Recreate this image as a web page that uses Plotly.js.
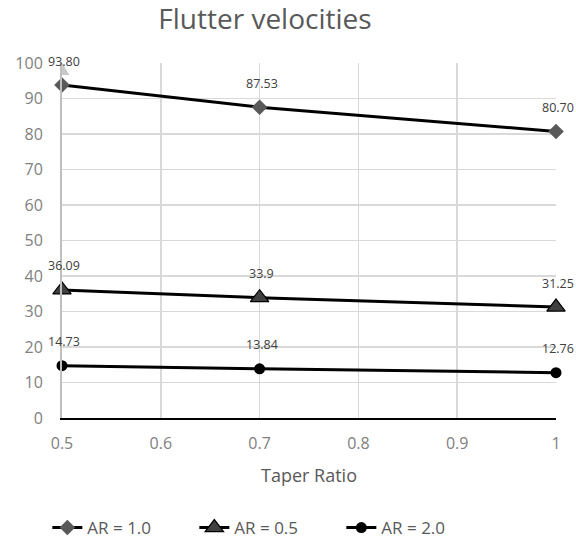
<!DOCTYPE html>
<html>
<head>
<meta charset="utf-8">
<script src="https://cdn.plot.ly/plotly-3.0.1.min.js"></script>
<style>html,body{margin:0;padding:0;background:#fff;}#chart{width:576px;height:541px;}</style>
</head>
<body>
<div id="chart"></div>
<script>
const taperRatio = [0.5, 0.7, 1.0];
const ar10 = [93.80, 87.53, 80.70];
const ar05 = [36.09, 33.9, 31.25];
const ar20 = [14.73, 13.84, 12.76];
const labels10 = ["93.80", "87.53", "80.70"];
const labels05 = ["36.09", "33.9", "31.25"];
const labels20 = ["14.73", "13.84", "12.76"];
const seriesNames = ["AR = 1.0", "AR = 0.5", "AR = 2.0"];
const xTicks = [0.5, 0.6, 0.7, 0.8, 0.9, 1];
const xTickText = ['0.5', '0.6', '0.7', '0.8', '0.9', '1'];

const traces = [
  {x: taperRatio, y: ar10, name: seriesNames[0], mode: 'lines+markers', cliponaxis: false,
   line: {color: '#000', width: 3},
   marker: {symbol: 'diamond', size: 12, color: '#595959'}},
  {x: taperRatio, y: ar05, name: seriesNames[1], mode: 'lines+markers', cliponaxis: false,
   line: {color: '#000', width: 3},
   marker: {symbol: 'triangle-up', size: 16, color: '#404040', line: {color: '#000', width: 1.2}}},
  {x: taperRatio, y: ar20, name: seriesNames[2], mode: 'lines+markers', cliponaxis: false,
   line: {color: '#000', width: 3},
   marker: {symbol: 'circle', size: 11, color: '#000'}}
];

const annotations = [];
[[ar10, labels10], [ar05, labels05], [ar20, labels20]].forEach(([vals, labs]) => {
  vals.forEach((v, i) => {
    annotations.push({x: taperRatio[i], y: v, text: labs[i], showarrow: false,
      yshift: 24, xshift: 2, font: {family: 'Open Sans, sans-serif', size: 12.5, color: '#404040'}});
  });
});

const layout = {
  width: 576, height: 541,
  margin: {l: 62, r: 20, t: 63, b: 123, autoexpand: false},
  paper_bgcolor: '#fff', plot_bgcolor: '#fff',
  font: {family: 'Open Sans, sans-serif', color: '#808080'},
  title: {text: 'Flutter velocities', x: 0.46, xanchor: 'center', y: 0.965, yanchor: 'middle',
          font: {family: 'Open Sans, sans-serif', size: 28, color: '#595959'}},
  xaxis: {range: [0.5, 1], tickvals: xTicks, ticktext: xTickText,
          showgrid: true, gridcolor: '#d9d9d9', gridwidth: 1.5, zeroline: false,
          showline: true, linecolor: '#000', linewidth: 2,
          tickfont: {size: 16, color: '#808080'}, ticks: '', ticklabelstandoff: 10,
          title: {text: 'Taper Ratio', font: {size: 18, color: '#595959'}, standoff: 16}},
  yaxis: {range: [0, 100], dtick: 10, showgrid: true, gridcolor: '#d9d9d9', gridwidth: 1.5, zeroline: false,
          showline: true, linecolor: '#bfbfbf', linewidth: 2,
          tickfont: {size: 16, color: '#808080'}, ticks: '', ticklabelstandoff: 14},
  showlegend: true,
  legend: {orientation: 'h', x: 0.465, xref: 'container', xanchor: 'center',
           y: 0.024, yref: 'container', yanchor: 'middle',
           font: {size: 17, color: '#595959'}, entrywidth: 102, traceorder: 'normal'},
  annotations: annotations,
  shapes: [{type: 'path', xref: 'x', xsizemode: 'pixel', xanchor: 0.5,
            yref: 'y', ysizemode: 'pixel', yanchor: 100,
            path: 'M -7.5 -12 L 0 0 L 7.5 -12 Z',
            fillcolor: '#c8c8c8', line: {width: 0}, layer: 'above'}]
};

Plotly.newPlot('chart', traces, layout, {displayModeBar: false, staticPlot: true});
</script>
</body>
</html>
